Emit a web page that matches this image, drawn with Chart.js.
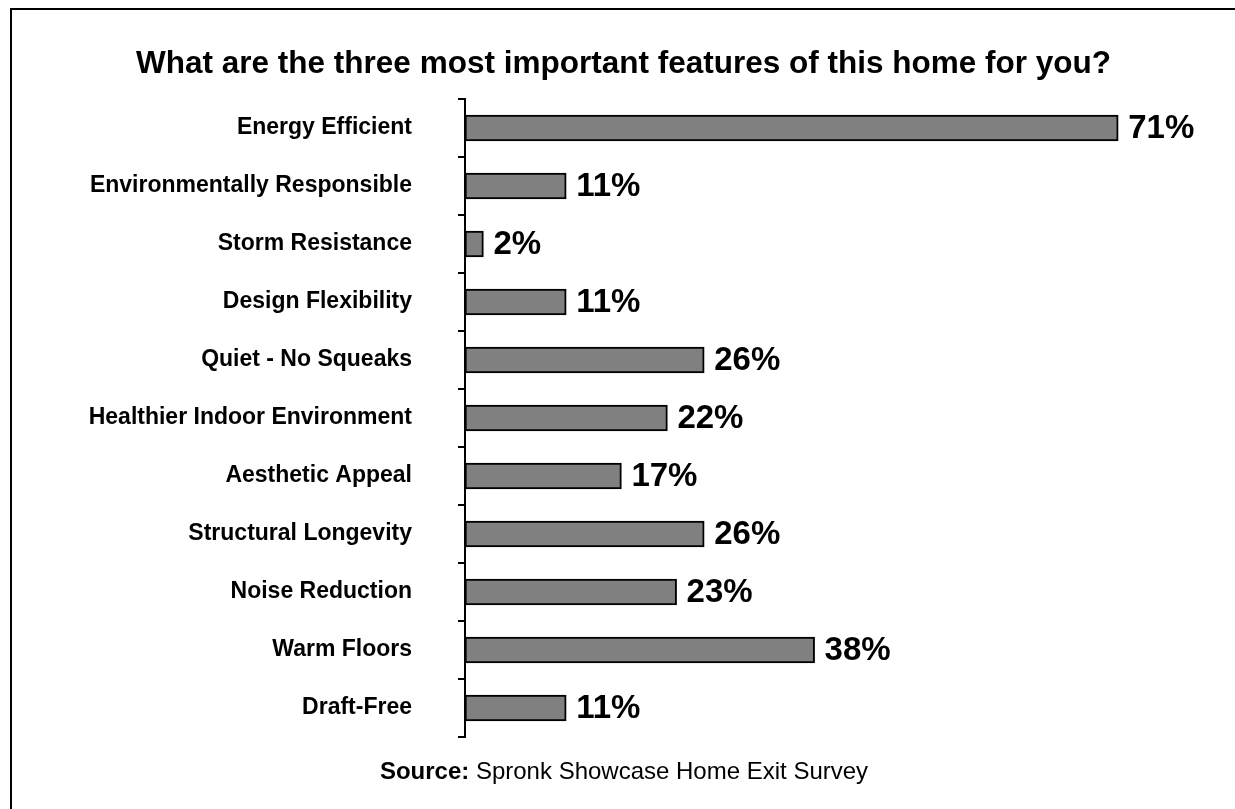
<!DOCTYPE html>
<html>
<head>
<meta charset="utf-8">
<script src="https://cdn.jsdelivr.net/npm/chart.js@4"></script>
<style>
  html, body { margin: 0; padding: 0; background: #fff; }
  #wrap { position: relative; width: 1235px; height: 809px; }
</style>
</head>
<body>
<div id="wrap"><canvas id="c" width="1235" height="809"></canvas></div>
<script>
const categories = [
  'Energy Efficient',
  'Environmentally Responsible',
  'Storm Resistance',
  'Design Flexibility',
  'Quiet - No Squeaks',
  'Healthier Indoor Environment',
  'Aesthetic Appeal',
  'Structural Longevity',
  'Noise Reduction',
  'Warm Floors',
  'Draft-Free'
];
const percentages = [71, 11, 2, 11, 26, 22, 17, 26, 23, 38, 11];

const titleText = 'What are the three most important features of this home for you?';
const sourceLabel = 'Source:';
const sourceText = ' Spronk Showcase Home Exit Survey';

const FONT = '"Liberation Sans", Arial, Helvetica, sans-serif';

// Frame, heading, footnote and value labels drawn around the bar chart
const decorations = {
  id: 'decorations',
  beforeDraw(chart) {
    const ctx = chart.ctx;
    ctx.save();
    ctx.fillStyle = '#fff';
    ctx.fillRect(0, 0, chart.width, chart.height);
    ctx.strokeStyle = '#000';
    ctx.lineWidth = 2;
    ctx.beginPath();
    ctx.moveTo(11, chart.height);
    ctx.lineTo(11, 9);
    ctx.lineTo(chart.width, 9);
    ctx.stroke();
    ctx.restore();
  },
  afterDraw(chart) {
    const ctx = chart.ctx;
    ctx.save();
    ctx.fillStyle = '#000';
    ctx.textBaseline = 'alphabetic';

    // heading
    ctx.font = 'bold 31.5px ' + FONT;
    ctx.textAlign = 'center';
    ctx.fillText(titleText, 623.5, 73);

    // footnote: bold lead-in followed by regular text
    ctx.textAlign = 'left';
    ctx.font = 'bold 24px ' + FONT;
    const w1 = ctx.measureText(sourceLabel).width;
    ctx.font = '24px ' + FONT;
    const w2 = ctx.measureText(sourceText).width;
    const x0 = 624 - (w1 + w2) / 2;
    ctx.font = 'bold 24px ' + FONT;
    ctx.fillText(sourceLabel, x0, 779);
    ctx.font = '24px ' + FONT;
    ctx.fillText(sourceText, x0 + w1, 779);

    // value labels at the end of each bar
    const meta = chart.getDatasetMeta(0);
    ctx.font = 'bold 33px ' + FONT;
    ctx.textBaseline = 'middle';
    meta.data.forEach((bar, i) => {
      ctx.fillText(percentages[i] + '%', bar.x + 10, bar.y + 1);
    });
    ctx.restore();
  }
};

new Chart(document.getElementById('c'), {
  type: 'bar',
  data: {
    labels: categories,
    datasets: [{
      data: percentages,
      backgroundColor: '#808080',
      borderColor: '#000',
      borderWidth: 2,
      borderSkipped: false,
      barThickness: 26
    }]
  },
  options: {
    indexAxis: 'y',
    responsive: false,
    animation: false,
    devicePixelRatio: 1,
    layout: { padding: { left: 0, right: 34, top: 99, bottom: 72 } },
    plugins: {
      legend: { display: false },
      tooltip: { enabled: false },
      title: { display: false }
    },
    scales: {
      x: {
        display: false,
        min: 0,
        max: 80
      },
      y: {
        afterFit(scale) { scale.width = 465; },
        border: { display: true, color: '#000', width: 2 },
        grid: {
          offset: true,
          drawOnChartArea: false,
          drawTicks: true,
          tickLength: 7,
          color: '#000',
          lineWidth: 2
        },
        ticks: {
          color: '#000',
          padding: 46,
          autoSkip: false,
          font: { family: FONT, size: 23, weight: 'bold' }
        }
      }
    }
  },
  plugins: [decorations]
});
</script>
</body>
</html>
